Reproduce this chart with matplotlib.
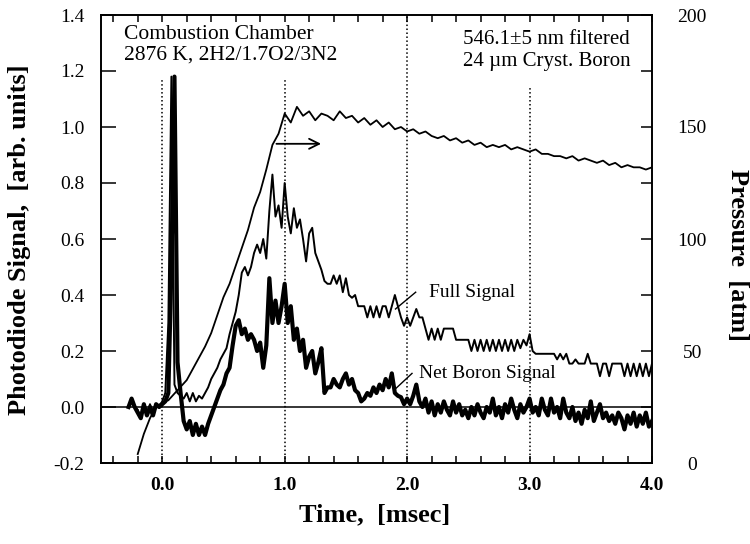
import numpy as np
import matplotlib
matplotlib.use("Agg")
import matplotlib.pyplot as plt
from matplotlib.ticker import MultipleLocator

plt.rcParams["font.family"] = ["Liberation Serif", "DejaVu Serif"]

# photodiode traces, sampled every 0.025 ms starting at -0.275 ms
sig_t0, sig_dt = -0.275, 0.025
full_signal = [
    0.00, 0.03, 0.00, -0.01, -0.04, 0.00, -0.03, 0.01, -0.02, 0.01, 0.00, 0.02,
    0.05, 0.30, 1.18, 0.08, 0.05, 0.04, 0.03, 0.05, 0.02, 0.05, 0.02, 0.04,
    0.03, 0.05, 0.07, 0.10, 0.12, 0.14, 0.17, 0.19, 0.21, 0.26, 0.30, 0.34,
    0.40, 0.48, 0.50, 0.47, 0.50, 0.55, 0.58, 0.55, 0.60, 0.53, 0.70, 0.83,
    0.68, 0.72, 0.64, 0.80, 0.68, 0.62, 0.71, 0.64, 0.67, 0.60, 0.52, 0.62,
    0.64, 0.55, 0.52, 0.49, 0.45, 0.44, 0.44, 0.47, 0.44, 0.47, 0.41, 0.46,
    0.40, 0.39, 0.40, 0.36, 0.36, 0.36, 0.32, 0.36, 0.32, 0.36, 0.32, 0.36,
    0.36, 0.32, 0.36, 0.40, 0.36, 0.32, 0.29, 0.32, 0.29, 0.32, 0.35, 0.32,
    0.32, 0.28, 0.24, 0.28, 0.24, 0.28, 0.24, 0.28, 0.28, 0.28, 0.28, 0.24,
    0.24, 0.24, 0.24, 0.24, 0.20, 0.24, 0.20, 0.24, 0.20, 0.24, 0.20, 0.24,
    0.20, 0.24, 0.20, 0.24, 0.20, 0.24, 0.20, 0.24, 0.21, 0.24, 0.22, 0.26,
    0.20, 0.19, 0.19, 0.19, 0.19, 0.19, 0.19, 0.19, 0.17, 0.19, 0.17, 0.19,
    0.155, 0.155, 0.17, 0.155, 0.155, 0.155, 0.19, 0.155, 0.155, 0.155, 0.11, 0.155,
    0.155, 0.11, 0.155, 0.155, 0.155, 0.155, 0.11, 0.155, 0.11, 0.155, 0.11, 0.155,
    0.11, 0.155, 0.11, 0.155,
]
net_signal = [
    0.00, 0.03, 0.00, -0.02, -0.04, 0.01, -0.03, 0.00, -0.03, 0.01, 0.00, 0.01,
    0.02, 0.05, 0.50, 1.18, 0.16, 0.05, -0.05, -0.08, -0.05, -0.10, -0.06, -0.10,
    -0.07, -0.10, -0.06, -0.03, 0.00, 0.03, 0.06, 0.08, 0.12, 0.14, 0.22, 0.29,
    0.31, 0.26, 0.28, 0.24, 0.26, 0.24, 0.20, 0.23, 0.14, 0.22, 0.46, 0.30,
    0.38, 0.30, 0.36, 0.44, 0.30, 0.36, 0.24, 0.28, 0.20, 0.24, 0.14, 0.18,
    0.20, 0.12, 0.16, 0.21, 0.05, 0.07, 0.07, 0.10, 0.08, 0.07, 0.10, 0.12,
    0.08, 0.10, 0.06, 0.05, 0.02, 0.03, 0.05, 0.04, 0.07, 0.05, 0.08, 0.06,
    0.10, 0.07, 0.12, 0.05, 0.04, 0.035, 0.01, 0.03, 0.01, 0.04, 0.08, 0.02,
    0.00, 0.03, -0.02, 0.02, -0.03, 0.01, -0.02, 0.02, -0.01, -0.03, 0.02, -0.02,
    0.01, -0.03, -0.01, -0.04, 0.00, -0.03, 0.01, -0.02, -0.04, 0.00, -0.02, 0.03,
    -0.03, 0.00, -0.04, 0.01, -0.02, 0.03, -0.01, -0.04, 0.01, -0.02, 0.00, 0.03,
    -0.02, 0.00, -0.03, 0.03, -0.01, -0.03, 0.03, -0.02, 0.00, -0.04, 0.03, -0.02,
    -0.04, 0.00, -0.05, -0.02, -0.06, -0.01, -0.04, 0.02, -0.05, -0.02, 0.01, -0.04,
    -0.02, -0.05, -0.03, -0.06, -0.02, -0.04, -0.08, -0.03, -0.06, -0.02, -0.07, -0.03,
    -0.06, -0.02, -0.07, -0.05,
]

# chamber pressure [atm], sampled every 0.05 ms starting at -0.2 ms
pres_t0, pres_dt = -0.2, 0.05
pressure = [
    4, 13, 20, 25, 27, 28, 31, 34, 37, 42, 47, 52, 58, 66, 74, 80, 88, 96,
    104, 114, 121, 131, 142, 147, 156, 152, 159, 155, 157, 153, 156, 155, 153, 157,
    154, 155, 152, 154, 151, 153, 150, 152, 149, 150, 148, 149, 147, 148, 146, 145,
    146, 144, 145, 143, 144, 142, 143, 141, 142, 141, 142, 140, 141, 140, 139, 140,
    138, 138, 137, 137, 136, 137, 135, 136, 135, 134, 135, 133, 134, 132, 133, 132,
    132, 131, 132,
]

sig_time = sig_t0 + sig_dt * np.arange(len(full_signal))
pres_time = pres_t0 + pres_dt * np.arange(len(pressure))

fig = plt.figure(figsize=(7.5, 5.44), dpi=100)
ax = fig.add_axes([101 / 750, 81 / 544, 551 / 750, 448 / 544])
ax2 = ax.twinx()

ax.set_xlim(-0.5, 4.0)
ax.set_ylim(-0.2, 1.4)
ax2.set_ylim(0, 200)

# reference markers
dots = (0, (1, 1.6))
ax.axhline(0, color="black", lw=1.1)
ax.axvline(0.0, ymax=0.86, color="black", lw=1.1, ls=dots)
ax.axvline(1.0, ymax=0.855, color="black", lw=1.1, ls=dots)
ax.axvline(2.0, color="black", lw=1.1, ls=dots)
ax.axvline(3.0, ymax=0.84, color="black", lw=1.1, ls=dots)

ax.plot(sig_time, full_signal, color="black", lw=1.4)
ax.plot(sig_time, net_signal, color="black", lw=3.0)
ax2.plot(pres_time, pressure, color="black", lw=1.3)

ax.annotate("", xy=(1.32, 0.94), xytext=(0.91, 0.94),
            arrowprops=dict(arrowstyle="->", color="black", lw=1.3, mutation_scale=18))

ax.text(-0.31, 1.365, "Combustion Chamber\n2876 K, 2H2/1.7O2/3N2",
        fontsize=15.5, va="top", ha="left", linespacing=1.12)
ax.text(2.46, 1.345, "546.1\u00b15 nm filtered\n24 \u00b5m Cryst. Boron",
        fontsize=15, va="top", ha="left", linespacing=1.15)

ax.text(2.18, 0.41, "Full Signal", fontsize=14, va="center", ha="left")
ax.plot([2.07, 1.905], [0.41, 0.35], color="black", lw=1.0)
ax.text(2.095, 0.12, "Net Boron Signal", fontsize=14, va="center", ha="left")
ax.plot([2.04, 1.905], [0.12, 0.065], color="black", lw=1.0)

# ticks
ax.xaxis.set_minor_locator(MultipleLocator(0.2))
ax.set_xticks([0, 1, 2, 3, 4])
ax.set_xticklabels(["0.0", "1.0", "2.0", "3.0", "4.0"], fontsize=14, fontweight="bold")
ax.yaxis.set_major_locator(MultipleLocator(0.2))
ax.yaxis.set_major_formatter(plt.FuncFormatter(lambda v, p: f"{v:.1f}"))
ax.tick_params(axis="x", which="both", direction="in", top=True, length=5, width=1.1, pad=10)
ax.tick_params(axis="y", which="major", direction="in", length=11, width=1.1, pad=12, labelsize=14)
ax.tick_params(axis="y", right=False)

ax2.yaxis.set_major_locator(MultipleLocator(50))
ax2.yaxis.set_minor_locator(MultipleLocator(25))
ax2.tick_params(axis="y", which="both", direction="in", length=8, width=1.1, pad=29, labelsize=14)
for lab in ax2.get_yticklabels():
    lab.set_horizontalalignment("center")

for a in (ax, ax2):
    for s in a.spines.values():
        s.set_linewidth(1.2)

fig.text(375 / 750, 1 - 515 / 544, "Time,  [msec]", fontsize=19, fontweight="bold",
         ha="center", va="center")
fig.text(20 / 750, 1 - 240 / 544, "Photodiode Signal,  [arb. units]", fontsize=19,
         fontweight="bold", ha="center", va="center", rotation=90)
fig.text(738 / 750, 1 - 255 / 544, "Pressure  [atm]", fontsize=19, fontweight="bold",
         ha="center", va="center", rotation=270)

fig.savefig("out.png", dpi=100)
